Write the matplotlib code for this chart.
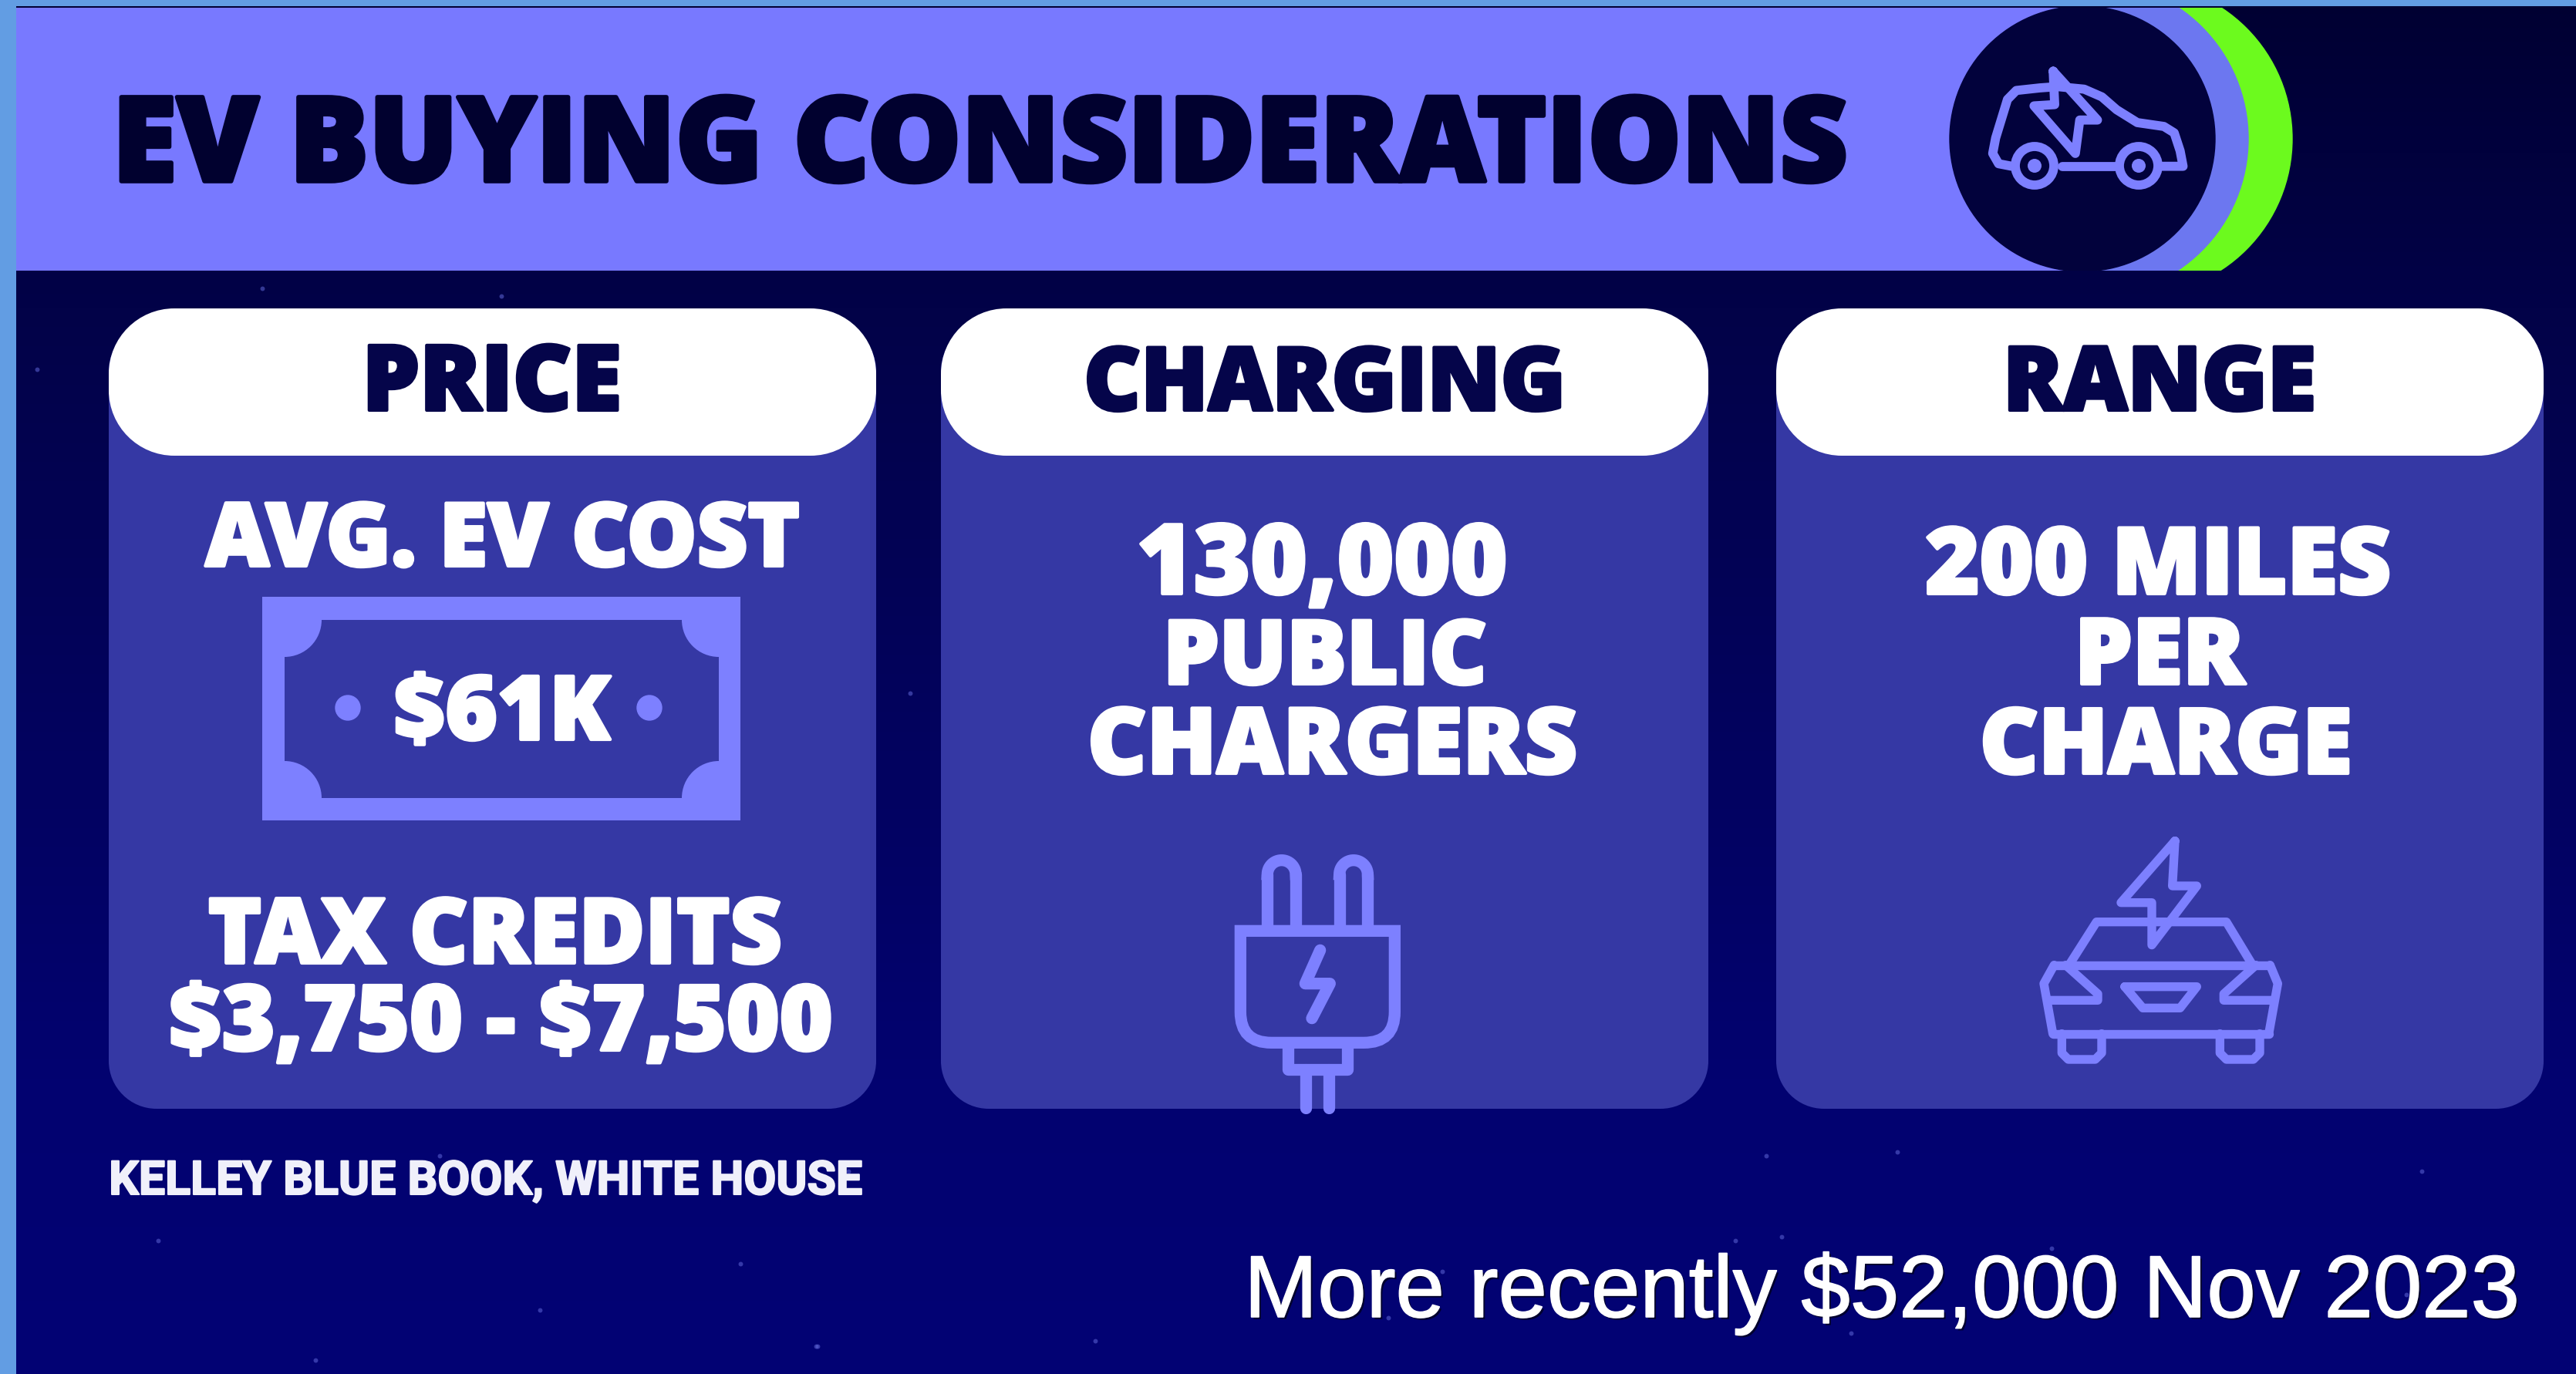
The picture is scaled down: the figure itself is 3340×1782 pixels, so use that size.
import numpy as np
import matplotlib
matplotlib.use('Agg')
import matplotlib.pyplot as plt
from matplotlib.patches import Rectangle, Circle, PathPatch
from matplotlib.path import Path
import matplotlib.patheffects as pe

W, H = 3341, 1783

# colours
STRIP = '#629DE3'
HEADER = '#7879FF'
HEADER2 = '#6C77F0'
GREEN = '#6CFA1E'
DARK = '#02023C'
CARD = '#3538A4'
LINE = '#7D80FF'
INK = '#05054A'
FONT = 'Open Sans'

# text
title = 'EV BUYING CONSIDERATIONS'
heads = ['PRICE', 'CHARGING', 'RANGE']
card_x = [141, 1220, 2303]
price_lines = ['AVG. EV COST', 'TAX CREDITS', '$3,750 - $7,500']
charging_lines = ['130,000', 'PUBLIC', 'CHARGERS']
range_lines = ['200 MILES', 'PER', 'CHARGE']
bill_value = '$61K'
source = 'KELLEY BLUE BOOK, WHITE HOUSE'
note = 'More recently $52,000 Nov 2023'

# background colour stops
bg_y = [0, 400, 800, 1400, 1783]
bg_r = [0, 2, 2, 2, 2]
bg_g = [0, 2, 2, 2, 2]
bg_b = [50, 72, 88, 112, 116]

# icons, in zoom crop pixels
plug_prong_l = [(340, 365), (340, 165)]
plug_prong_r = [(620, 365), (620, 165)]
plug_neck = [(420, 820), (420, 925), (650, 925), (650, 820)]
plug_cable_l = [(490, 925), (490, 1075)]
plug_cable_r = [(580, 925), (580, 1075)]
plug_bolt = [(545, 460), (487, 590), (583, 590), (513, 725)]

front_bolt = [(660, 65), (450, 305), (570, 305), (570, 470), (745, 240), (650, 240), (660, 65)]
front_roof = [(250, 545), (355, 380), (860, 380), (960, 545)]
front_bar = [(190, 548), (1030, 548)]
front_left = [(235, 548), (360, 660), (360, 685), (170, 685)]
front_right = [(975, 548), (850, 660), (850, 685), (1040, 685)]
front_outer = [(185, 815), (150, 620), (190, 548)]
front_outer2 = [(1025, 815), (1060, 620), (1030, 548)]
front_base = [(185, 815), (1025, 815)]
front_grille = [(465, 632), (745, 632), (680, 715), (535, 715), (465, 632)]
front_wheel_l = [(220, 815), (220, 890), (245, 915), (350, 915), (375, 890), (375, 815)]
front_wheel_r = [(835, 815), (835, 890), (860, 915), (965, 915), (990, 890), (990, 815)]

side_body = [(545, 650), (500, 640), (480, 600), (490, 540), (530, 390), (560, 355), (640, 345), (700, 340),
             (790, 350), (850, 380), (900, 430), (970, 480), (1060, 495), (1095, 520), (1115, 590), (1125, 650), (1035, 650)]
side_floor = [(715, 650), (915, 650)]
side_bolt = [(685, 280), (835, 470), (775, 470), (760, 600), (620, 415), (690, 410), (685, 280)]

stars_x = [340, 650, 48, 1290, 1870, 2290, 2460, 3120, 700, 2250, 2400, 1060, 2660, 3140, 2310, 960, 1420, 1800,
           409, 1058, 1100, 205, 570, 1180, 1690, 2100, 2950, 3220, 2750, 1240]
stars_y = [375, 385, 480, 520, 1650, 1500, 1495, 1680, 1700, 1610, 1730, 1747, 1620, 1520, 1605, 1640, 1740, 1710,
           1765, 1747, 1520, 1610, 1500, 900, 1110, 780, 1200, 700, 1050, 1000]

fig = plt.figure(figsize=(W / 100, H / 100), dpi=100)
ax = fig.add_axes([0, 0, 1, 1])

# background, darker at the top
rows = np.arange(H)
bg = np.stack([np.interp(rows, bg_y, bg_r), np.interp(rows, bg_y, bg_g), np.interp(rows, bg_y, bg_b)], axis=1)
ax.imshow(bg[:, None, :] / 255, extent=(0, W, H, 0), aspect='auto', zorder=0)
ax.set_xlim(0, W)
ax.set_ylim(H, 0)
ax.axis('off')
ax.scatter(stars_x, stars_y, s=18, color='#5F66D6', alpha=0.55, linewidths=0, zorder=1)

# header band
clip = Rectangle((0, 11), W, 341, transform=ax.transData)
for cx, r, col, z in [(2769, 203, GREEN, 3), (2710, 205, HEADER2, 3.1), (2700, 172, DARK, 3.5)]:
    c = Circle((cx, 181), r, color=col, zorder=z)
    ax.add_patch(c)
    c.set_clip_path(clip)
ax.add_patch(Rectangle((21, 11), 2680, 341, color=HEADER, lw=0, zorder=3.2))


def rrect(x, y, w, h, r, **kw):
    k = 0.5523 * r
    v = [(x + r, y), (x + w - r, y), (x + w - r + k, y), (x + w, y + r - k), (x + w, y + r),
         (x + w, y + h - r), (x + w, y + h - r + k), (x + w - r + k, y + h), (x + w - r, y + h),
         (x + r, y + h), (x + r - k, y + h), (x, y + h - r + k), (x, y + h - r),
         (x, y + r), (x, y + r - k), (x + r - k, y), (x + r, y), (x + r, y)]
    codes = [Path.MOVETO, Path.LINETO, Path.CURVE4, Path.CURVE4, Path.CURVE4,
             Path.LINETO, Path.CURVE4, Path.CURVE4, Path.CURVE4,
             Path.LINETO, Path.CURVE4, Path.CURVE4, Path.CURVE4,
             Path.LINETO, Path.CURVE4, Path.CURVE4, Path.CURVE4, Path.CLOSEPOLY]
    p = PathPatch(Path(v, codes), **kw)
    ax.add_patch(p)
    return p


def stroke(pts, x0, y0, sx, sy, lw, z=6):
    a = np.array(pts, dtype=float)
    ax.plot(x0 + a[:, 0] / sx, y0 + a[:, 1] / sy, color=LINE, lw=lw,
            solid_capstyle='round', solid_joinstyle='round', zorder=z)


# cards and pills
for x in card_x:
    rrect(x, 420, 995, 1019, 62, fc=CARD, ec='none', zorder=2)
    rrect(x, 401, 995, 191, 85, fc='white', ec='none', zorder=3)


def fit_text(s, x0, x1, base, color='white', family=FONT, weight=800, z=7, size=60, thick=0):
    t = ax.text((x0 + x1) / 2, base, s, color=color, family=family, weight=weight, fontsize=size,
                ha='center', va='baseline', zorder=z, parse_math=False)
    bb = t.get_window_extent(fig.canvas.get_renderer())
    t.set_fontsize(size * (x1 - x0) / bb.width)
    if thick:
        t.set_path_effects([pe.withStroke(linewidth=thick, foreground=color)])
    return t


fit_text(title, 145, 2395, 236, color='#01012F', thick=4)
fit_text(heads[0], 470, 806, 533, color=INK, thick=3)
fit_text(heads[1], 1405, 2030, 533, color=INK, thick=3)
fit_text(heads[2], 2597, 3003, 533, color=INK, thick=3)

fit_text(price_lines[0], 266, 1037, 735, thick=3)
fit_text(price_lines[1], 270, 1014, 1250, thick=3)
fit_text(price_lines[2], 219, 1080, 1363, thick=3)
fit_text(charging_lines[0], 1474, 1954, 771, thick=3)
fit_text(charging_lines[1], 1508, 1928, 888, thick=3)
fit_text(charging_lines[2], 1410, 2045, 1004, thick=3)
fit_text(range_lines[0], 2497, 3100, 771, thick=3)
fit_text(range_lines[1], 2690, 2910, 888, thick=3)
fit_text(range_lines[2], 2567, 3050, 1004, thick=3)
fit_text(source, 141, 1118, 1550, color='#F0F0FA', family='Roboto', weight=700, thick=1.5)
n = fit_text(note, 1613, 3268, 1709, family='Liberation Sans', weight='normal')
n.set_path_effects([pe.withSimplePatchShadow(offset=(2, -2), shadow_rgbFace='black', alpha=0.6),
                    pe.withStroke(linewidth=1.2, foreground='white')])

# bill: frame, then cut the inner panel with concave corners
ax.add_patch(Rectangle((340, 775), 620, 290, color=LINE, lw=0, zorder=4))
inner = Rectangle((369, 805), 563, 231, color=CARD, lw=0, zorder=5)
ax.add_patch(inner)
for cx, cy in [(369, 805), (932, 805), (369, 1036), (932, 1036)]:
    c = Circle((cx, cy), 48, color=LINE, lw=0, zorder=5.1)
    ax.add_patch(c)
    c.set_clip_path(inner)
ax.add_patch(Circle((451, 919), 16, color=LINE, zorder=6))
ax.add_patch(Circle((842, 919), 16, color=LINE, zorder=6))
fit_text(bill_value, 510, 791, 960, thick=3)

# plug
lw_plug = 11
px, py = 1530, 1080
for seg in (plug_prong_l, plug_prong_r):
    stroke(seg, px, py, 3, 3, lw_plug)
    t = np.linspace(np.pi, 0, 30)
    xc = px + (seg[1][0] + 55) / 3
    yc = py + seg[1][1] / 3
    ax.plot(xc + 55 / 3 * np.cos(t), yc - 55 / 3 * np.sin(t), color=LINE, lw=lw_plug, zorder=6)
    stroke([(seg[0][0] + 110, 365), (seg[1][0] + 110, 165)], px, py, 3, 3, lw_plug)
verts = np.array([(235, 385), (835, 385), (835, 700), (835, 820), (715, 820), (355, 820), (235, 820), (235, 700), (235, 385)], dtype=float)
codes = [Path.MOVETO, Path.LINETO, Path.LINETO, Path.CURVE3, Path.CURVE3, Path.LINETO, Path.CURVE3, Path.CURVE3, Path.CLOSEPOLY]
verts = verts / 3 + [px, py]
ax.add_patch(PathPatch(Path(verts, codes), fc='none', ec=LINE, lw=lw_plug, zorder=6))
for seg in (plug_neck, plug_cable_l, plug_cable_r, plug_bolt):
    stroke(seg, px, py, 3, 3, lw_plug)

# car, front view
fx, fy = 2600, 1070
for seg in (front_bolt, front_roof, front_bar, front_left, front_right, front_outer, front_outer2,
            front_base, front_grille, front_wheel_l, front_wheel_r):
    stroke(seg, fx, fy, 3, 3, 8.2)

# car, side view
sx, sy = 2400, 0
for seg in (side_body, side_floor, side_bolt):
    stroke(seg, sx, sy, 2.613, 3, 8.5)
for wx in (2638, 2773):
    ax.add_patch(Circle((wx, 216), 25, fc=DARK, ec=LINE, lw=8.5, zorder=6.5))
    ax.add_patch(Circle((wx, 216), 9, fc=LINE, ec='none', zorder=6.6))

# frame strips
ax.add_patch(Rectangle((0, 0), 21, H, color=STRIP, lw=0, zorder=9))
ax.add_patch(Rectangle((0, 0), W, 9, color=STRIP, lw=0, zorder=9))

fig.savefig('out.png', dpi=100)
